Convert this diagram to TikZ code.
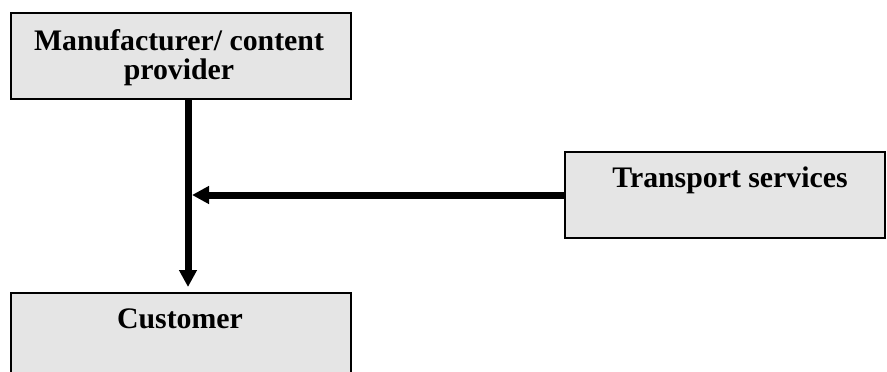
\documentclass[tikz,border=0pt]{standalone}
\usepackage{fontspec}
\setmainfont{Liberation Serif}
\usetikzlibrary{arrows.meta}
\definecolor{boxfill}{RGB}{229,229,229}
\tikzset{
  box/.style={draw=black, line width=2pt, fill=boxfill, rectangle, inner sep=0pt, anchor=north west},
  boxtext/.style={font=\fontsize{29.8}{29}\selectfont\bfseries, align=center, inner sep=0pt, anchor=base},
  flow/.style={line width=7pt, -{Triangle[length=17pt,width=17pt]}}
}
\begin{document}
\begin{tikzpicture}[x=1pt,y=-1pt]
  \useasboundingbox (0,0) rectangle (887,372);
  \clip (0,0) rectangle (887,372);

  % boxes
  \node[box, minimum width=340pt, minimum height=86pt] (maker) at (10,12) {};
  \node[box, minimum width=320pt, minimum height=86pt] (transport) at (564,151) {};
  \node[box, minimum width=340pt, minimum height=100pt] (customer) at (10,292) {};

  % box labels (base anchor sits on the last line's baseline)
  \node[boxtext] (makertext) at (179,79) {Manufacturer/ content\\provider};
  \node[boxtext] (transporttext) at (730,187) {Transport services};
  \node[boxtext] (customertext) at (180,328) {Customer};

  % point where the transport feed meets the main flow
  \coordinate (joinmid) at (192,195);

  % main flow and the transport feed
  \draw[flow, shorten >=5pt] (maker.south -| 188,0) -- (customer.north -| 188,0);
  \draw[flow] (transport.west |- 0,195) -- (joinmid);
\end{tikzpicture}
\end{document}
